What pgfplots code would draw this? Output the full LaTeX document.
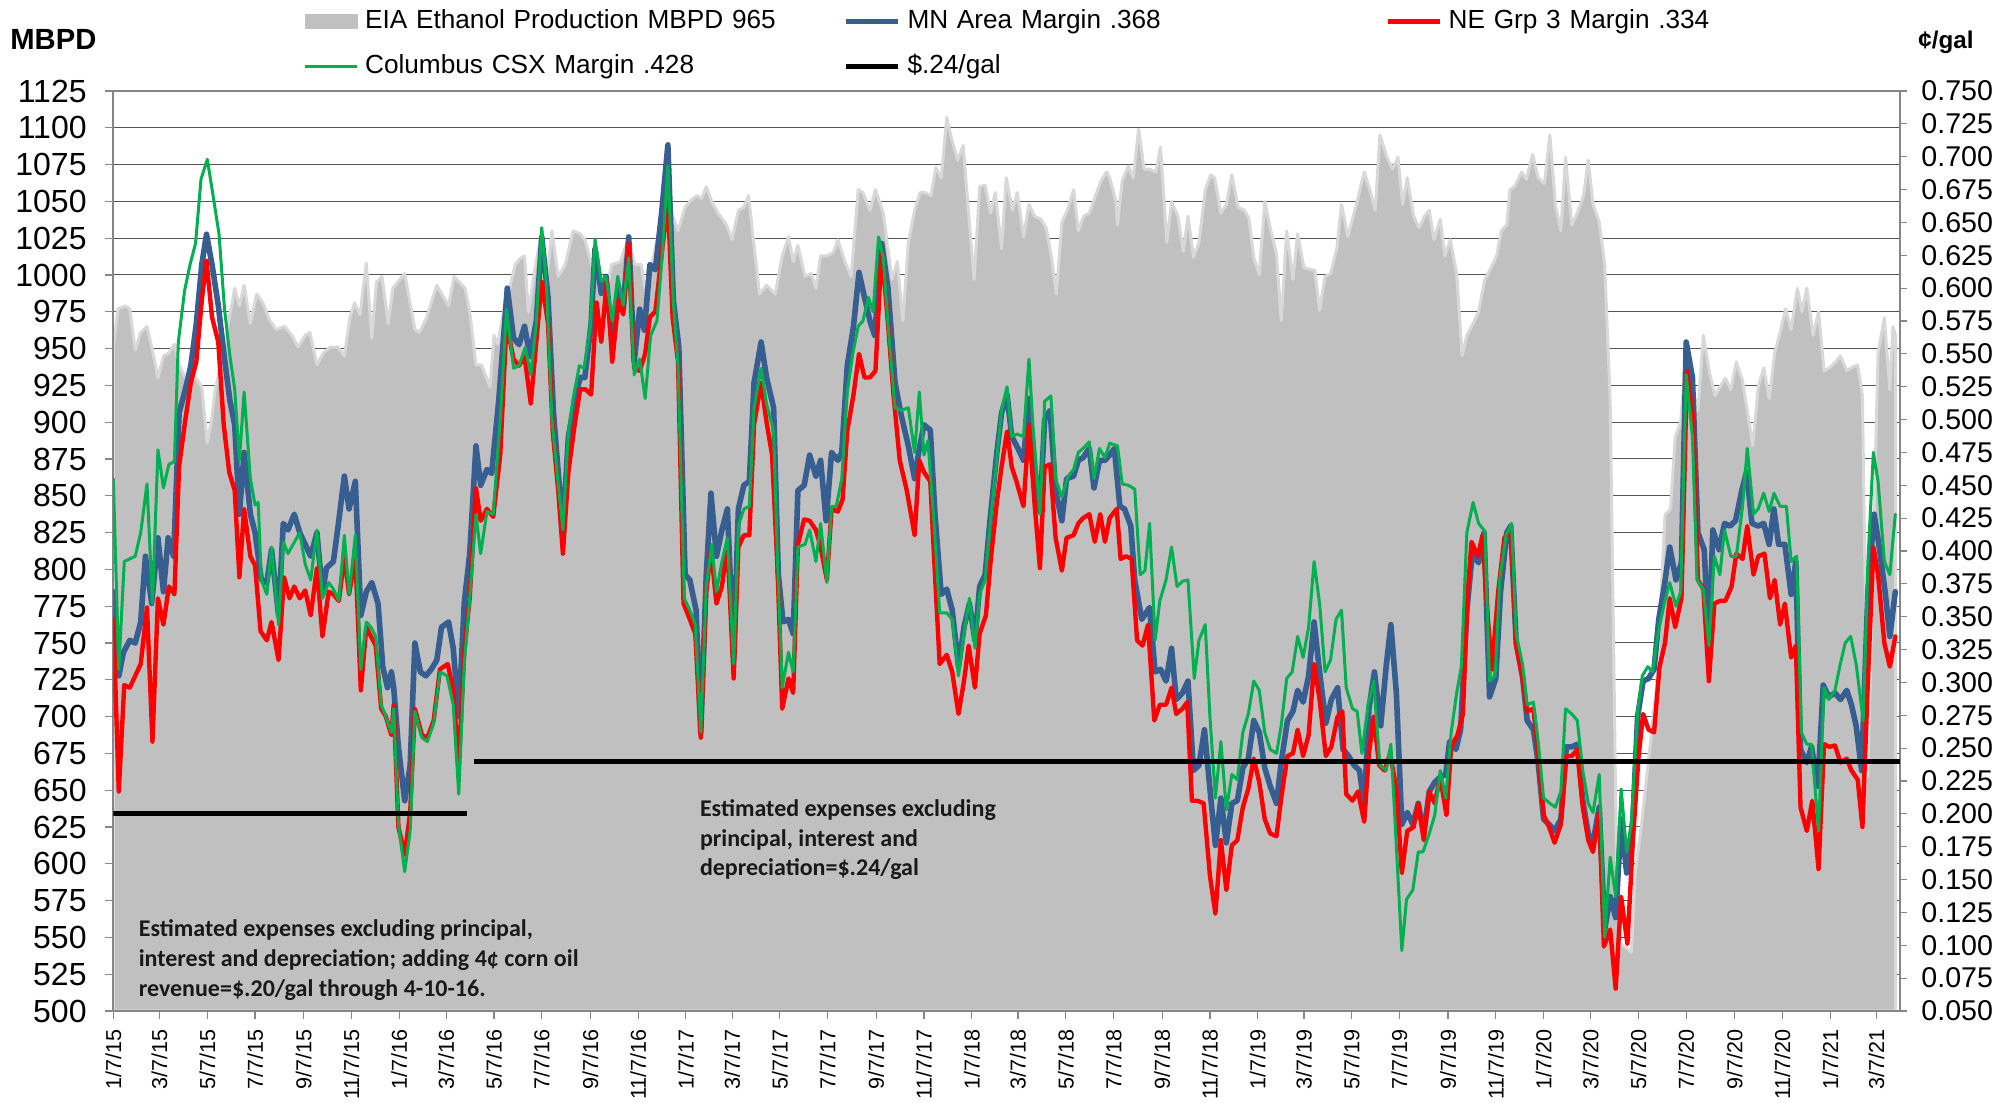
\documentclass[border=0pt]{standalone}
\usepackage{fontspec}
\setmainfont{Liberation Sans}
\newfontfamily\calib{Carlito}
\usepackage{pgfplots}
\usepackage{pgfplotstable}
\pgfplotsset{compat=1.18}
\definecolor{areagray}{RGB}{192,192,192}
\definecolor{areaedge}{RGB}{216,216,216}
\definecolor{mnblue}{RGB}{54,94,145}
\definecolor{nered}{RGB}{255,0,0}
\definecolor{csxgreen}{RGB}{0,176,80}
\definecolor{axgray}{RGB}{134,134,134}
\definecolor{gridc}{RGB}{85,85,85}

\pgfplotstableread[row sep=\\]{x y\\
0 951\\ 6 977\\ 15 979\\ 21 977\\ 28 949\\ 35 961\\ 43 965\\ 50 949\\ 57 930\\ 64 945\\ 71 947\\ 78 953\\ 84 939\\ 92 930\\ 99 930\\ 106 930\\ 113 924\\ 117 902\\ 120 886\\ 125 900\\ 130 922\\ 140 945\\ 148 971\\ 151 979\\ 155 991\\ 161 979\\ 167 993\\ 175 967\\ 183 987\\ 191 981\\ 200 969\\ 208 963\\ 219 965\\ 228 959\\ 236 951\\ 245 959\\ 251 961\\ 260 939\\ 268 947\\ 277 951\\ 287 951\\ 295 945\\ 302 971\\ 308 981\\ 315 973\\ 323 1008\\ 330 957\\ 336 995\\ 343 999\\ 351 967\\ 357 991\\ 372 1001\\ 385 963\\ 391 961\\ 400 971\\ 413 993\\ 428 979\\ 435 999\\ 449 991\\ 455 975\\ 463 939\\ 470 939\\ 481 924\\ 486 959\\ 491 953\\ 500 981\\
506 991\\ 513 1007\\ 519 1011\\ 525 1013\\ 530 975\\ 538 1003\\ 547 1030\\ 553 995\\ 560 1030\\ 568 999\\ 577 1007\\ 587 1030\\ 596 1028\\ 602 1024\\ 613 1003\\ 621 997\\ 628 983\\ 636 1007\\ 647 1009\\ 657 1024\\ 666 1007\\ 674 1007\\ 679 991\\ 687 1005\\ 702 1046\\ 713 1042\\ 721 1030\\ 730 1046\\ 736 1050\\ 745 1054\\ 751 1052\\ 757 1060\\ 764 1050\\ 772 1042\\ 783 1034\\ 790 1024\\ 798 1044\\ 805 1046\\ 811 1054\\ 818 1020\\ 825 987\\ 834 993\\ 845 987\\ 854 1013\\ 862 1026\\ 868 1009\\ 874 1020\\ 883 999\\ 891 1001\\ 897 991\\ 903 1013\\ 911 1013\\ 919 1015\\ 925 1024\\ 934 1009\\ 942 999\\ 951 1058\\ 957 1056\\ 966 1044\\ 973 1058\\ 983 1042\\ 994 997\\ 1001 1009\\ 1008 969\\
1015 1022\\ 1023 1044\\ 1030 1056\\ 1036 1056\\ 1044 1054\\ 1050 1073\\ 1057 1066\\ 1064 1107\\ 1070 1093\\ 1078 1078\\ 1085 1088\\ 1091 1048\\ 1099 997\\ 1106 1060\\ 1113 1061\\ 1120 1042\\ 1126 1056\\ 1134 1018\\ 1140 1066\\ 1148 1044\\ 1154 1056\\ 1162 1026\\ 1169 1048\\ 1176 1040\\ 1184 1038\\ 1191 1032\\ 1198 1011\\ 1204 987\\ 1211 1036\\ 1218 1044\\ 1226 1058\\ 1232 1030\\ 1239 1040\\ 1246 1042\\ 1254 1054\\ 1261 1064\\ 1268 1070\\ 1272 1066\\ 1280 1050\\ 1282 1034\\ 1288 1064\\ 1296 1074\\ 1302 1066\\ 1309 1099\\ 1316 1072\\ 1323 1072\\ 1331 1070\\ 1337 1087\\ 1345 1022\\ 1351 1050\\ 1359 1040\\ 1366 1016\\ 1372 1040\\ 1379 1012\\ 1386 1022\\ 1394 1058\\ 1401 1068\\ 1406 1066\\ 1414 1042\\ 1421 1048\\ 1428 1068\\ 1436 1046\\ 1444 1044\\ 1450 1038\\ 1456 1012\\ 1463 1000\\ 1470 1050\\ 1477 1032\\ 1485 1014\\ 1491 969\\ 1498 1030\\ 1506 997\\ 1512 1028\\ 1520 1005\\
1534 1003\\ 1540 976\\ 1547 999\\ 1554 1001\\ 1562 1018\\ 1568 1048\\ 1576 1026\\ 1587 1048\\ 1597 1070\\ 1604 1058\\ 1611 1044\\ 1617 1095\\ 1626 1080\\ 1633 1072\\ 1640 1080\\ 1646 1048\\ 1652 1066\\ 1660 1040\\ 1667 1032\\ 1674 1040\\ 1680 1044\\ 1686 1024\\ 1694 1038\\ 1700 1013\\ 1707 1024\\ 1715 1001\\ 1722 945\\ 1728 959\\ 1736 967\\ 1743 975\\ 1751 997\\ 1759 1005\\ 1766 1013\\ 1772 1030\\ 1779 1034\\ 1783 1058\\ 1789 1060\\ 1798 1070\\ 1804 1065\\ 1812 1082\\ 1819 1066\\ 1827 1062\\ 1834 1095\\ 1841 1048\\ 1848 1030\\ 1854 1080\\ 1862 1034\\ 1869 1042\\ 1877 1054\\ 1883 1078\\ 1889 1048\\ 1897 1036\\ 1904 1007\\ 1911 914\\ 1915 764\\ 1919 602\\ 1923 546\\ 1938 540\\ 1943 594\\ 1951 627\\ 1960 671\\ 1970 720\\ 1981 837\\ 1988 841\\ 1994 890\\ 2001 900\\ 2008 951\\ 2017 922\\ 2023 908\\ 2030 959\\
2038 933\\ 2045 918\\ 2051 924\\ 2058 930\\ 2065 922\\ 2072 941\\ 2080 928\\ 2086 908\\ 2093 884\\ 2100 924\\ 2107 937\\ 2114 916\\ 2121 947\\ 2128 961\\ 2135 977\\ 2142 963\\ 2150 991\\ 2156 975\\ 2162 991\\ 2170 959\\ 2177 975\\ 2184 935\\ 2191 937\\ 2199 941\\ 2205 945\\ 2213 935\\ 2219 937\\ 2227 939\\ 2233 918\\ 2240 659\\ 2247 817\\ 2253 947\\ 2261 971\\ 2268 922\\ 2272 965\\ 2275 959\\
}\tarea

\pgfplotstableread[row sep=\\]{x y\\
0 0.369\\ 7 0.305\\ 13 0.323\\ 21 0.332\\ 28 0.330\\ 35 0.346\\ 41 0.396\\ 49 0.360\\ 57 0.410\\ 64 0.369\\ 70 0.410\\ 77 0.396\\ 84 0.505\\ 92 0.523\\ 99 0.541\\ 106 0.573\\ 113 0.618\\ 119 0.641\\ 126 0.618\\ 134 0.587\\ 142 0.546\\ 149 0.514\\ 155 0.496\\ 161 0.428\\ 167 0.475\\ 175 0.428\\ 181 0.414\\ 189 0.378\\ 196 0.376\\ 202 0.401\\ 211 0.351\\ 217 0.421\\ 223 0.416\\ 231 0.428\\ 238 0.414\\ 245 0.405\\ 252 0.396\\ 260 0.414\\ 267 0.367\\ 272 0.387\\ 281 0.392\\ 287 0.419\\ 295 0.457\\ 301 0.432\\ 309 0.453\\ 316 0.351\\ 323 0.369\\ 330 0.376\\ 338 0.360\\ 344 0.312\\ 350 0.296\\ 355 0.308\\ 358 0.296\\ 364 0.251\\ 372 0.210\\ 379 0.237\\ 385 0.330\\ 392 0.308\\ 399 0.305\\ 406 0.310\\ 413 0.317\\ 419 0.342\\ 428 0.346\\ 434 0.326\\ 441 0.274\\ 448 0.360\\ 455 0.398\\ 463 0.480\\ 469 0.450\\ 477 0.462\\ 483 0.459\\ 492 0.514\\ 503 0.600\\
511 0.562\\ 518 0.557\\ 525 0.571\\ 532 0.548\\ 540 0.575\\ 547 0.639\\ 555 0.593\\ 562 0.505\\ 568 0.460\\ 574 0.416\\ 581 0.487\\ 589 0.514\\ 596 0.532\\ 602 0.532\\ 610 0.573\\ 615 0.630\\ 623 0.596\\ 629 0.609\\ 636 0.566\\ 645 0.600\\ 651 0.584\\ 658 0.639\\ 665 0.544\\ 672 0.584\\ 678 0.568\\ 685 0.618\\ 692 0.614\\ 700 0.657\\ 708 0.709\\ 715 0.591\\ 722 0.555\\ 730 0.382\\ 736 0.378\\ 744 0.355\\ 750 0.262\\ 757 0.382\\ 763 0.444\\ 770 0.396\\ 777 0.416\\ 784 0.432\\ 792 0.319\\ 798 0.432\\ 805 0.450\\ 812 0.453\\ 818 0.528\\ 827 0.559\\ 834 0.532\\ 843 0.509\\ 849 0.382\\ 855 0.346\\ 862 0.348\\ 868 0.337\\ 874 0.446\\ 882 0.450\\ 889 0.473\\ 897 0.457\\ 903 0.469\\ 910 0.423\\ 917 0.475\\ 925 0.469\\ 930 0.475\\ 937 0.541\\ 945 0.571\\ 952 0.612\\ 959 0.593\\ 966 0.575\\ 972 0.564\\ 981 0.634\\ 989 0.600\\ 998 0.528\\ 1006 0.503\\ 1015 0.480\\
1023 0.455\\ 1029 0.478\\ 1035 0.496\\ 1043 0.492\\ 1049 0.428\\ 1057 0.367\\ 1064 0.371\\ 1071 0.355\\ 1079 0.312\\ 1086 0.342\\ 1093 0.360\\ 1100 0.332\\ 1106 0.373\\ 1113 0.382\\ 1120 0.428\\ 1128 0.475\\ 1134 0.505\\ 1141 0.519\\ 1147 0.487\\ 1155 0.478\\ 1162 0.469\\ 1169 0.516\\ 1176 0.464\\ 1183 0.430\\ 1189 0.500\\ 1196 0.507\\ 1203 0.446\\ 1211 0.423\\ 1217 0.455\\ 1226 0.457\\ 1232 0.469\\ 1238 0.471\\ 1246 0.478\\ 1252 0.448\\ 1259 0.469\\ 1266 0.469\\ 1272 0.473\\ 1278 0.478\\ 1285 0.434\\ 1291 0.432\\ 1299 0.419\\ 1304 0.378\\ 1313 0.348\\ 1323 0.357\\ 1330 0.308\\ 1337 0.310\\ 1344 0.301\\ 1351 0.326\\ 1357 0.287\\ 1365 0.292\\ 1372 0.301\\ 1379 0.233\\ 1386 0.237\\ 1393 0.264\\ 1400 0.219\\ 1407 0.176\\ 1414 0.212\\ 1421 0.178\\ 1428 0.208\\ 1435 0.210\\ 1442 0.235\\ 1449 0.242\\ 1456 0.271\\ 1463 0.262\\ 1470 0.235\\ 1477 0.221\\ 1485 0.208\\ 1491 0.239\\ 1499 0.271\\ 1506 0.278\\ 1512 0.294\\ 1519 0.285\\
1526 0.305\\ 1533 0.346\\ 1540 0.308\\ 1548 0.269\\ 1555 0.287\\ 1563 0.296\\ 1570 0.249\\ 1577 0.244\\ 1584 0.237\\ 1591 0.233\\ 1597 0.205\\ 1603 0.280\\ 1610 0.308\\ 1618 0.267\\ 1625 0.312\\ 1631 0.344\\ 1638 0.292\\ 1645 0.192\\ 1652 0.201\\ 1659 0.192\\ 1666 0.208\\ 1673 0.185\\ 1680 0.217\\ 1687 0.224\\ 1694 0.228\\ 1701 0.230\\ 1706 0.255\\ 1714 0.249\\ 1720 0.264\\ 1728 0.355\\ 1735 0.398\\ 1743 0.391\\ 1750 0.414\\ 1757 0.289\\ 1765 0.303\\ 1771 0.369\\ 1779 0.414\\ 1784 0.419\\ 1791 0.330\\ 1799 0.305\\ 1805 0.271\\ 1813 0.264\\ 1819 0.239\\ 1826 0.196\\ 1833 0.192\\ 1840 0.187\\ 1848 0.196\\ 1855 0.251\\ 1862 0.251\\ 1869 0.253\\ 1876 0.210\\ 1883 0.185\\ 1889 0.178\\ 1897 0.205\\ 1904 0.112\\ 1911 0.137\\ 1918 0.121\\ 1925 0.196\\ 1932 0.155\\ 1940 0.196\\ 1946 0.274\\ 1953 0.301\\ 1960 0.303\\ 1967 0.310\\ 1973 0.348\\ 1980 0.373\\ 1987 0.403\\ 1995 0.378\\ 2002 0.391\\ 2008 0.559\\ 2016 0.532\\ 2023 0.414\\ 2031 0.401\\
2037 0.328\\ 2042 0.416\\ 2050 0.401\\ 2057 0.421\\ 2064 0.419\\ 2071 0.423\\ 2079 0.446\\ 2085 0.460\\ 2092 0.421\\ 2100 0.419\\ 2107 0.421\\ 2114 0.405\\ 2120 0.432\\ 2126 0.405\\ 2134 0.405\\ 2142 0.367\\ 2148 0.392\\ 2154 0.249\\ 2162 0.239\\ 2168 0.251\\ 2176 0.221\\ 2183 0.298\\ 2190 0.289\\ 2198 0.292\\ 2205 0.287\\ 2213 0.294\\ 2219 0.283\\ 2225 0.267\\ 2232 0.233\\ 2240 0.369\\ 2248 0.428\\ 2254 0.405\\ 2262 0.369\\ 2268 0.335\\ 2275 0.369\\
}\tblue

\pgfplotstableread[row sep=\\]{x y\\
0 0.348\\ 7 0.217\\ 14 0.298\\ 21 0.296\\ 28 0.305\\ 35 0.314\\ 43 0.357\\ 50 0.255\\ 57 0.364\\ 64 0.344\\ 71 0.373\\ 78 0.367\\ 84 0.464\\ 92 0.500\\ 99 0.528\\ 106 0.544\\ 113 0.591\\ 119 0.621\\ 126 0.578\\ 134 0.559\\ 141 0.496\\ 148 0.460\\ 155 0.446\\ 161 0.380\\ 167 0.432\\ 175 0.396\\ 181 0.389\\ 188 0.339\\ 196 0.332\\ 202 0.346\\ 211 0.317\\ 218 0.380\\ 225 0.364\\ 231 0.373\\ 238 0.364\\ 245 0.370\\ 252 0.351\\ 260 0.387\\ 267 0.335\\ 275 0.369\\ 281 0.367\\ 288 0.362\\ 295 0.396\\ 301 0.367\\ 309 0.396\\ 316 0.294\\ 323 0.342\\ 329 0.335\\ 335 0.328\\ 342 0.280\\ 348 0.274\\ 355 0.260\\ 358 0.283\\ 364 0.190\\ 372 0.169\\ 379 0.201\\ 385 0.280\\ 394 0.260\\ 401 0.258\\ 409 0.271\\ 417 0.310\\ 427 0.314\\ 434 0.294\\ 441 0.237\\ 448 0.323\\ 455 0.364\\ 463 0.448\\ 469 0.423\\ 477 0.432\\ 485 0.426\\ 494 0.473\\ 502 0.573\\
511 0.546\\ 518 0.541\\ 525 0.548\\ 533 0.512\\ 540 0.559\\ 547 0.605\\ 555 0.573\\ 561 0.491\\ 568 0.446\\ 574 0.398\\ 581 0.460\\ 589 0.496\\ 596 0.523\\ 603 0.523\\ 610 0.519\\ 617 0.589\\ 623 0.559\\ 630 0.605\\ 637 0.544\\ 645 0.591\\ 651 0.580\\ 658 0.634\\ 665 0.539\\ 672 0.537\\ 679 0.550\\ 685 0.578\\ 692 0.582\\ 700 0.625\\ 708 0.668\\ 714 0.578\\ 721 0.544\\ 728 0.360\\ 736 0.348\\ 743 0.337\\ 750 0.258\\ 757 0.369\\ 763 0.401\\ 770 0.360\\ 777 0.373\\ 784 0.405\\ 792 0.303\\ 798 0.403\\ 805 0.412\\ 812 0.412\\ 818 0.496\\ 827 0.528\\ 834 0.498\\ 841 0.473\\ 848 0.387\\ 854 0.280\\ 862 0.303\\ 868 0.292\\ 874 0.405\\ 882 0.424\\ 889 0.423\\ 897 0.416\\ 903 0.403\\ 911 0.378\\ 917 0.432\\ 925 0.430\\ 931 0.439\\ 937 0.491\\ 945 0.519\\ 952 0.550\\ 959 0.532\\ 966 0.532\\ 973 0.537\\ 981 0.630\\ 989 0.573\\ 996 0.519\\ 1004 0.469\\ 1013 0.446\\
1023 0.412\\ 1029 0.469\\ 1035 0.460\\ 1043 0.453\\ 1049 0.382\\ 1055 0.314\\ 1064 0.321\\ 1071 0.308\\ 1079 0.276\\ 1086 0.301\\ 1092 0.328\\ 1100 0.296\\ 1106 0.337\\ 1114 0.351\\ 1120 0.392\\ 1128 0.437\\ 1134 0.464\\ 1141 0.491\\ 1147 0.464\\ 1153 0.453\\ 1162 0.434\\ 1169 0.496\\ 1176 0.437\\ 1183 0.387\\ 1189 0.464\\ 1196 0.466\\ 1203 0.410\\ 1211 0.385\\ 1217 0.410\\ 1226 0.412\\ 1232 0.421\\ 1238 0.425\\ 1246 0.428\\ 1253 0.407\\ 1260 0.428\\ 1266 0.407\\ 1272 0.425\\ 1281 0.432\\ 1286 0.394\\ 1293 0.396\\ 1300 0.394\\ 1307 0.332\\ 1314 0.328\\ 1321 0.344\\ 1329 0.271\\ 1336 0.283\\ 1344 0.283\\ 1351 0.296\\ 1357 0.276\\ 1365 0.280\\ 1371 0.285\\ 1377 0.210\\ 1384 0.210\\ 1392 0.208\\ 1400 0.153\\ 1407 0.124\\ 1414 0.180\\ 1421 0.142\\ 1428 0.176\\ 1435 0.180\\ 1442 0.205\\ 1449 0.219\\ 1456 0.242\\ 1463 0.224\\ 1470 0.196\\ 1477 0.185\\ 1485 0.183\\ 1491 0.212\\ 1499 0.244\\ 1506 0.246\\ 1512 0.264\\ 1519 0.244\\
1526 0.260\\ 1533 0.314\\ 1540 0.287\\ 1548 0.244\\ 1555 0.251\\ 1563 0.274\\ 1569 0.278\\ 1574 0.215\\ 1582 0.210\\ 1589 0.217\\ 1597 0.194\\ 1603 0.246\\ 1609 0.274\\ 1616 0.237\\ 1623 0.233\\ 1630 0.246\\ 1638 0.219\\ 1645 0.155\\ 1652 0.187\\ 1660 0.190\\ 1666 0.208\\ 1673 0.180\\ 1680 0.217\\ 1687 0.208\\ 1694 0.228\\ 1702 0.199\\ 1708 0.251\\ 1716 0.260\\ 1723 0.276\\ 1729 0.367\\ 1734 0.407\\ 1742 0.396\\ 1748 0.412\\ 1754 0.355\\ 1760 0.310\\ 1768 0.369\\ 1776 0.410\\ 1784 0.416\\ 1791 0.328\\ 1799 0.303\\ 1805 0.278\\ 1813 0.280\\ 1819 0.246\\ 1826 0.199\\ 1833 0.190\\ 1840 0.178\\ 1848 0.192\\ 1855 0.244\\ 1862 0.244\\ 1869 0.249\\ 1876 0.205\\ 1883 0.180\\ 1889 0.171\\ 1897 0.201\\ 1903 0.099\\ 1911 0.112\\ 1918 0.067\\ 1925 0.137\\ 1933 0.101\\ 1940 0.180\\ 1947 0.242\\ 1953 0.276\\ 1960 0.264\\ 1967 0.262\\ 1974 0.312\\ 1981 0.330\\ 1987 0.364\\ 1994 0.342\\ 2002 0.364\\ 2009 0.537\\ 2017 0.500\\ 2023 0.378\\ 2030 0.371\\
2037 0.301\\ 2044 0.360\\ 2051 0.362\\ 2058 0.362\\ 2066 0.373\\ 2072 0.398\\ 2080 0.394\\ 2086 0.419\\ 2094 0.382\\ 2100 0.396\\ 2108 0.398\\ 2115 0.364\\ 2121 0.378\\ 2128 0.344\\ 2134 0.360\\ 2142 0.319\\ 2148 0.328\\ 2154 0.205\\ 2162 0.187\\ 2169 0.210\\ 2177 0.158\\ 2184 0.253\\ 2191 0.251\\ 2198 0.252\\ 2205 0.239\\ 2213 0.242\\ 2219 0.233\\ 2227 0.226\\ 2233 0.190\\ 2240 0.301\\ 2247 0.403\\ 2253 0.382\\ 2261 0.330\\ 2268 0.312\\ 2275 0.335\\
}\tred

\pgfplotstableread[row sep=\\]{x y\\
0 0.455\\ 7 0.310\\ 14 0.392\\ 21 0.394\\ 28 0.396\\ 35 0.414\\ 43 0.451\\ 50 0.360\\ 57 0.477\\ 64 0.448\\ 71 0.466\\ 78 0.468\\ 83 0.559\\ 91 0.598\\ 98 0.618\\ 105 0.634\\ 112 0.683\\ 120 0.698\\ 128 0.668\\ 135 0.641\\ 142 0.584\\ 149 0.548\\ 155 0.523\\ 161 0.469\\ 167 0.521\\ 175 0.455\\ 181 0.435\\ 185 0.437\\ 189 0.378\\ 196 0.367\\ 202 0.403\\ 211 0.344\\ 217 0.407\\ 223 0.398\\ 238 0.414\\ 245 0.390\\ 252 0.378\\ 260 0.416\\ 267 0.364\\ 275 0.376\\ 281 0.371\\ 288 0.362\\ 295 0.412\\ 301 0.367\\ 309 0.412\\ 316 0.310\\ 323 0.346\\ 329 0.342\\ 335 0.335\\ 342 0.283\\ 348 0.274\\ 355 0.262\\ 358 0.280\\ 364 0.192\\ 372 0.156\\ 379 0.187\\ 385 0.278\\ 394 0.258\\ 401 0.255\\ 409 0.269\\ 417 0.308\\ 426 0.305\\ 434 0.283\\ 441 0.215\\ 448 0.314\\ 455 0.364\\ 463 0.428\\ 469 0.398\\ 477 0.430\\ 485 0.428\\ 494 0.500\\ 502 0.584\\
511 0.539\\ 518 0.541\\ 526 0.555\\ 533 0.534\\ 540 0.573\\ 547 0.646\\ 553 0.603\\ 560 0.500\\ 567 0.457\\ 574 0.416\\ 581 0.491\\ 587 0.516\\ 595 0.541\\ 601 0.539\\ 609 0.571\\ 615 0.637\\ 623 0.605\\ 629 0.609\\ 637 0.575\\ 644 0.609\\ 651 0.587\\ 658 0.623\\ 665 0.534\\ 672 0.546\\ 679 0.516\\ 686 0.564\\ 694 0.575\\ 701 0.627\\ 708 0.693\\ 715 0.589\\ 721 0.541\\ 729 0.364\\ 736 0.355\\ 743 0.344\\ 750 0.262\\ 757 0.373\\ 764 0.405\\ 770 0.369\\ 777 0.392\\ 784 0.410\\ 792 0.314\\ 798 0.419\\ 805 0.432\\ 812 0.434\\ 818 0.509\\ 827 0.539\\ 834 0.512\\ 843 0.491\\ 848 0.392\\ 854 0.296\\ 862 0.323\\ 868 0.308\\ 874 0.403\\ 883 0.405\\ 889 0.416\\ 897 0.392\\ 903 0.421\\ 911 0.376\\ 917 0.434\\ 923 0.434\\ 930 0.455\\ 937 0.521\\ 944 0.550\\ 951 0.571\\ 957 0.575\\ 964 0.593\\ 970 0.582\\ 977 0.639\\ 983 0.623\\ 989 0.573\\ 998 0.509\\ 1006 0.507\\ 1015 0.509\\
1023 0.475\\ 1029 0.521\\ 1035 0.473\\ 1040 0.484\\ 1048 0.419\\ 1055 0.353\\ 1064 0.353\\ 1071 0.348\\ 1079 0.305\\ 1086 0.337\\ 1093 0.364\\ 1100 0.326\\ 1106 0.367\\ 1113 0.378\\ 1120 0.423\\ 1128 0.471\\ 1134 0.507\\ 1141 0.525\\ 1147 0.487\\ 1154 0.489\\ 1162 0.487\\ 1169 0.546\\ 1174 0.496\\ 1183 0.428\\ 1189 0.514\\ 1197 0.518\\ 1203 0.455\\ 1211 0.441\\ 1219 0.457\\ 1226 0.462\\ 1232 0.475\\ 1238 0.478\\ 1246 0.483\\ 1252 0.455\\ 1259 0.478\\ 1266 0.471\\ 1272 0.482\\ 1282 0.480\\ 1288 0.451\\ 1296 0.450\\ 1304 0.447\\ 1311 0.382\\ 1317 0.385\\ 1323 0.421\\ 1330 0.332\\ 1336 0.362\\ 1344 0.378\\ 1351 0.403\\ 1358 0.373\\ 1365 0.377\\ 1372 0.378\\ 1380 0.303\\ 1386 0.332\\ 1394 0.344\\ 1400 0.274\\ 1407 0.212\\ 1414 0.255\\ 1421 0.203\\ 1428 0.230\\ 1435 0.226\\ 1442 0.262\\ 1449 0.276\\ 1456 0.301\\ 1463 0.294\\ 1470 0.262\\ 1477 0.249\\ 1485 0.246\\ 1491 0.267\\ 1498 0.303\\ 1505 0.308\\ 1512 0.335\\ 1519 0.319\\
1526 0.342\\ 1533 0.392\\ 1540 0.360\\ 1547 0.308\\ 1554 0.317\\ 1561 0.348\\ 1568 0.355\\ 1574 0.296\\ 1582 0.280\\ 1588 0.278\\ 1594 0.246\\ 1602 0.283\\ 1609 0.301\\ 1617 0.237\\ 1625 0.233\\ 1631 0.253\\ 1637 0.187\\ 1645 0.096\\ 1651 0.135\\ 1659 0.142\\ 1666 0.171\\ 1672 0.171\\ 1680 0.185\\ 1687 0.199\\ 1694 0.233\\ 1701 0.212\\ 1708 0.262\\ 1715 0.292\\ 1721 0.312\\ 1728 0.414\\ 1736 0.437\\ 1743 0.421\\ 1751 0.415\\ 1757 0.301\\ 1764 0.305\\ 1770 0.378\\ 1778 0.412\\ 1785 0.421\\ 1791 0.337\\ 1799 0.314\\ 1805 0.283\\ 1813 0.285\\ 1819 0.255\\ 1826 0.212\\ 1834 0.208\\ 1841 0.205\\ 1848 0.217\\ 1854 0.280\\ 1862 0.276\\ 1869 0.271\\ 1876 0.233\\ 1883 0.208\\ 1889 0.201\\ 1897 0.230\\ 1904 0.106\\ 1911 0.167\\ 1918 0.137\\ 1925 0.219\\ 1932 0.171\\ 1938 0.192\\ 1946 0.278\\ 1952 0.305\\ 1959 0.312\\ 1965 0.308\\ 1972 0.337\\ 1980 0.360\\ 1987 0.376\\ 1995 0.358\\ 2001 0.369\\ 2008 0.534\\ 2016 0.487\\ 2022 0.378\\ 2030 0.371\\
2037 0.328\\ 2044 0.396\\ 2051 0.382\\ 2057 0.416\\ 2065 0.396\\ 2072 0.396\\ 2080 0.434\\ 2086 0.478\\ 2094 0.428\\ 2100 0.432\\ 2107 0.444\\ 2114 0.430\\ 2120 0.444\\ 2128 0.434\\ 2136 0.434\\ 2142 0.392\\ 2149 0.396\\ 2155 0.262\\ 2162 0.253\\ 2168 0.253\\ 2177 0.187\\ 2184 0.296\\ 2190 0.287\\ 2198 0.294\\ 2204 0.312\\ 2211 0.330\\ 2218 0.335\\ 2225 0.314\\ 2234 0.271\\ 2240 0.392\\ 2247 0.475\\ 2253 0.453\\ 2261 0.392\\ 2268 0.382\\ 2275 0.428\\
}\tgreen

\begin{document}
\begin{tikzpicture}
\useasboundingbox (-56.65pt,-46pt) rectangle (947.85pt,505.5pt);
\begin{axis}[
  name=ax1,
  at={(0pt,0pt)}, anchor=south west,
  scale only axis, width=893.35pt, height=460pt,
  xmin=0, xmax=2281, ymin=500, ymax=1125,
  xtick={0,59,120,181,243,304,365,425,486,547,609,670,731,790,851,912,974,1035,1096,1155,1216,1277,1339,1400,1461,1520,1581,1642,1704,1765,1826,1886,1947,2008,2070,2131,2192,2251},
  xticklabels={1/7/15,3/7/15,5/7/15,7/7/15,9/7/15,11/7/15,1/7/16,3/7/16,5/7/16,7/7/16,9/7/16,11/7/16,1/7/17,3/7/17,5/7/17,7/7/17,9/7/17,11/7/17,1/7/18,3/7/18,5/7/18,7/7/18,9/7/18,11/7/18,1/7/19,3/7/19,5/7/19,7/7/19,9/7/19,11/7/19,1/7/20,3/7/20,5/7/20,7/7/20,9/7/20,11/7/20,1/7/21,3/7/21},
  ytick distance=25,
  ymajorgrids, grid style={gridc, line width=0.5pt},
  axis line style={axgray, line width=0.8pt},
  tick style={axgray, line width=0.6pt},
  tick align=outside, major tick length=4pt,
  xtick pos=left, ytick pos=left,
  /pgf/number format/assume math mode=true,
  /pgf/number format/1000 sep={},
  yticklabel style={font=\fontsize{16}{16}\selectfont, inner sep=0pt},
  yticklabel shift=9.15pt,
  xticklabel style={font=\fontsize{10.8}{11}\selectfont, inner sep=0pt, rotate=90, anchor=east},
  xticklabel shift=5pt,
]
\addplot[fill=areagray, draw=areaedge, line width=1.5pt, line join=round] table[x=x,y=y]{\tarea} \closedcycle;
\end{axis}
\begin{axis}[
  name=ax2,
  at={(0pt,0pt)}, anchor=south west,
  scale only axis, width=893.35pt, height=460pt,
  xmin=0, xmax=2281, ymin=0.05, ymax=0.75,
  xtick=\empty,
  ytick={0.05,0.075,0.1,0.125,0.15,0.175,0.2,0.225,0.25,0.275,0.3,0.325,0.35,0.375,0.4,0.425,0.45,0.475,0.5,0.525,0.55,0.575,0.6,0.625,0.65,0.675,0.7,0.725,0.75},
  ytick pos=right, yticklabel pos=right,
  axis line style={axgray, line width=0.8pt},
  tick style={axgray, line width=0.6pt},
  tick align=outside, major tick length=3.5pt,
  /pgf/number format/assume math mode=true,
  /pgf/number format/fixed, /pgf/number format/fixed zerofill, /pgf/number format/precision=3,
  yticklabel style={font=\fontsize{14.3}{15}\selectfont, inner sep=0pt},
  yticklabel shift=7pt,
  legend columns=3,
  legend cell align=left,
  legend image code/.code={\draw[#1, line cap=butt] (0pt,0pt) -- (26pt,0pt);},
  legend style={draw=none, fill=none, at={(0.10657,1.08957)}, anchor=north west, inner sep=0pt, outer sep=0pt, row sep=9.5pt,
    font=\fontsize{13.1}{16}\selectfont,
    nodes={inner sep=0pt, text width=236.8pt, text height=10pt, text depth=3pt},
    /tikz/every odd column/.style={column sep=3.2pt},
    /tikz/every even column/.style={column sep=2.4pt}},
]
\addlegendimage{legend image code/.code={\fill[areagray] (0pt,-3.5pt) rectangle (26pt,3.5pt);}}
\addlegendentry{EIA Ethanol Production MBPD 965}
\addplot[mnblue, line width=2.8pt, line join=round, line cap=round] table[x=x,y=y]{\tblue};
\addlegendentry{MN Area Margin .368}
\addplot[nered, line width=2.2pt, line join=round, line cap=round] table[x=x,y=y]{\tred};
\addlegendentry{NE Grp 3 Margin .334}
\addplot[csxgreen, line width=1.5pt, line join=round, line cap=round] table[x=x,y=y]{\tgreen};
\addlegendentry{Columbus CSX Margin .428}
\addplot[black, line width=2.5pt] coordinates {(0,0.24) (0,0.24)};
\addlegendentry{\$.24/gal}
\addplot[black, line width=2.5pt, forget plot] coordinates {(0,0.20) (451,0.20)};
\addplot[black, line width=2.5pt, forget plot] coordinates {(460,0.24) (2281,0.24)};
\end{axis}
\node[anchor=west, inner sep=0pt, font=\bfseries\fontsize{14.6}{15}\selectfont] at ([xshift=-51.65pt,yshift=26pt]ax1.north west) {MBPD};
\node[anchor=west, inner sep=0pt, font=\bfseries\fontsize{12.1}{13}\selectfont] at ([xshift=9pt,yshift=24.5pt]ax1.north east) {¢/gal};
\begin{scope}[every node/.style={anchor=base west, inner sep=0pt, font=\calib\bfseries\fontsize{12}{15}\selectfont, text=black!90}]
\node at ([xshift=12.55pt,yshift=37pt]ax1.south west) {Estimated expenses excluding principal,};
\node at ([xshift=12.55pt,yshift=22pt]ax1.south west) {interest and depreciation; adding 4¢ corn oil};
\node at ([xshift=12.55pt,yshift=7pt]ax1.south west) {revenue=\$.20/gal through 4-10-16.};
\node at ([xshift=293.15pt,yshift=97.25pt]ax1.south west) {Estimated expenses excluding};
\node at ([xshift=293.15pt,yshift=82.45pt]ax1.south west) {principal, interest and};
\node at ([xshift=293.15pt,yshift=67.65pt]ax1.south west) {depreciation=\$.24/gal};
\end{scope}
\end{tikzpicture}
\end{document}
